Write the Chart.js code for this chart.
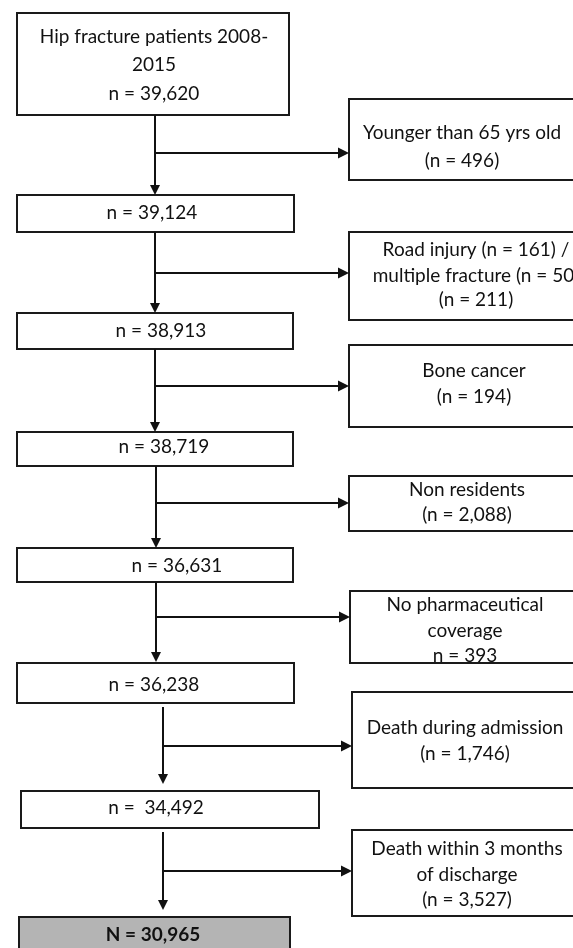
<!DOCTYPE html>
<html>
<head>
<meta charset="utf-8">
<script src="https://cdn.jsdelivr.net/npm/chart.js@4.4.1/dist/chart.umd.min.js"></script>
<style>
  html, body { margin: 0; padding: 0; background: #fff; }
  #wrap { width: 573px; height: 948px; }
</style>
</head>
<body>
<div id="wrap"><canvas id="c" width="573" height="948"></canvas></div>
<script>
// ---- DATA ----
const stepLabels = [
  ["Hip fracture patients 2008-", "2015", "n = 39,620"],
  ["n = 39,124"],
  ["n = 38,913"],
  ["n = 38,719"],
  ["n = 36,631"],
  ["n = 36,238"],
  ["n =  34,492"],
  ["N = 30,965"]
];
const stepCounts = [39620, 39124, 38913, 38719, 36631, 36238, 34492, 30965];

const exclusionLabels = [
  ["Younger than 65 yrs old", "(n = 496)"],
  ["Road injury (n = 161) /", "multiple fracture (n = 50)", "(n = 211)"],
  ["Bone cancer", "(n = 194)"],
  ["Non residents", "(n = 2,088)"],
  ["No pharmaceutical", "coverage", "n = 393"],
  ["Death during admission", "(n = 1,746)"],
  ["Death within 3 months", "of discharge", "(n = 3,527)"]
];
const exclusionCounts = [496, 211, 194, 2088, 393, 1746, 3527];

// ---- LAYOUT (in axis units, 1 unit = 1 px of the 573x948 page) ----
const stepBoxes = [
  [17, 13, 289, 115], [17, 195, 294, 232], [17, 313, 293, 349], [17, 432, 293, 466],
  [17, 548, 293, 582], [17, 663, 294, 703], [21, 791, 319, 828], [19, 917, 290, 965]
];
const stepTextX = [154, 152, 161, 164, 177, 154, 156, 153];
const stepTextY = [[37, 65, 94], [213], [331], [447], [566], [685], [808], [935]];

const exclBoxes = [
  [349, 99, 600, 180], [349, 232, 600, 320], [349, 345, 600, 427], [349, 476, 600, 531],
  [350, 591, 600, 663], [352, 692, 600, 788], [352, 830, 600, 916]
];
const exclTextX = [462, 476, 474, 467, 465, 465, 467];
const exclTextY = [[133, 161], [250, 276, 300], [371, 397], [490, 515], [605, 631, 656], [728, 754], [849, 875, 900]];

// vertical connectors: [x, yStart, yEnd(arrow tip)]
const downArrows = [
  [155, 115, 195], [155, 232, 313], [155, 349, 432], [156, 466, 548],
  [156, 582, 662], [163, 707, 784], [163, 832, 910]
];
const branchY = [153, 273, 386, 503, 617, 746, 871];

const FONT = "Lato, 'Open Sans', sans-serif";
const FONT_SIZE = 19;

const flowPlugin = {
  id: 'flow',
  afterDraw(chart) {
    const ctx = chart.ctx;
    const sx = chart.scales.x, sy = chart.scales.y;
    const X = v => sx.getPixelForValue(v);
    const Y = v => sy.getPixelForValue(v);
    ctx.save();

    const drawBox = (b, fill) => {
      const x1 = X(b[0]), y1 = Y(b[1]), x2 = X(b[2]), y2 = Y(b[3]);
      if (fill) { ctx.fillStyle = fill; ctx.fillRect(x1, y1, x2 - x1, y2 - y1); }
      ctx.lineWidth = 2;
      ctx.strokeStyle = '#1a1a1a';
      ctx.strokeRect(x1, y1, x2 - x1, y2 - y1);
    };
    stepBoxes.forEach((b, i) => drawBox(b, i === stepBoxes.length - 1 ? '#b4b4b4' : '#fff'));
    exclBoxes.forEach(b => drawBox(b, '#fff'));

    ctx.strokeStyle = '#111';
    ctx.fillStyle = '#111';
    downArrows.forEach((a, i) => {
      const x = X(a[0]), y0 = Y(a[1]), y1 = Y(a[2]);
      ctx.lineWidth = 2;
      ctx.beginPath(); ctx.moveTo(x, y0); ctx.lineTo(x, y1 - 8); ctx.stroke();
      ctx.beginPath(); ctx.moveTo(x - 5, y1 - 10); ctx.lineTo(x + 5, y1 - 10); ctx.lineTo(x, y1); ctx.closePath(); ctx.fill();
      const by = Y(branchY[i]);
      const bx = X(exclBoxes[i][0]);
      ctx.lineWidth = 1.8;
      ctx.beginPath(); ctx.moveTo(x, by); ctx.lineTo(bx - 9, by); ctx.stroke();
      ctx.beginPath(); ctx.moveTo(bx - 11, by - 5.5); ctx.lineTo(bx - 11, by + 5.5); ctx.lineTo(bx, by); ctx.closePath(); ctx.fill();
    });

    ctx.textAlign = 'center';
    ctx.textBaseline = 'middle';
    ctx.fillStyle = '#111';
    stepLabels.forEach((lines, i) => {
      const bold = i === stepLabels.length - 1;
      ctx.font = (bold ? 'bold ' : '') + FONT_SIZE + 'px ' + FONT;
      lines.forEach((t, j) => ctx.fillText(t, X(stepTextX[i]), Y(stepTextY[i][j])));
    });
    ctx.font = FONT_SIZE + 'px ' + FONT;
    exclusionLabels.forEach((lines, i) => {
      lines.forEach((t, j) => ctx.fillText(t, X(exclTextX[i]), Y(exclTextY[i][j])));
    });
    ctx.restore();
  }
};

new Chart(document.getElementById('c'), {
  type: 'scatter',
  data: {
    datasets: [{
      label: 'steps',
      data: stepCounts.map((n, i) => ({ x: stepTextX[i], y: stepTextY[i][0], n })),
      pointRadius: 0
    }, {
      label: 'exclusions',
      data: exclusionCounts.map((n, i) => ({ x: exclTextX[i], y: exclTextY[i][0], n })),
      pointRadius: 0
    }]
  },
  options: {
    responsive: false,
    devicePixelRatio: 1,
    animation: false,
    layout: { padding: 0 },
    plugins: { legend: { display: false }, tooltip: { enabled: false }, title: { display: false } },
    scales: {
      x: { type: 'linear', min: 0, max: 573, display: false },
      y: { type: 'linear', min: 0, max: 948, reverse: true, display: false }
    }
  },
  plugins: [flowPlugin]
});
</script>
</body>
</html>
